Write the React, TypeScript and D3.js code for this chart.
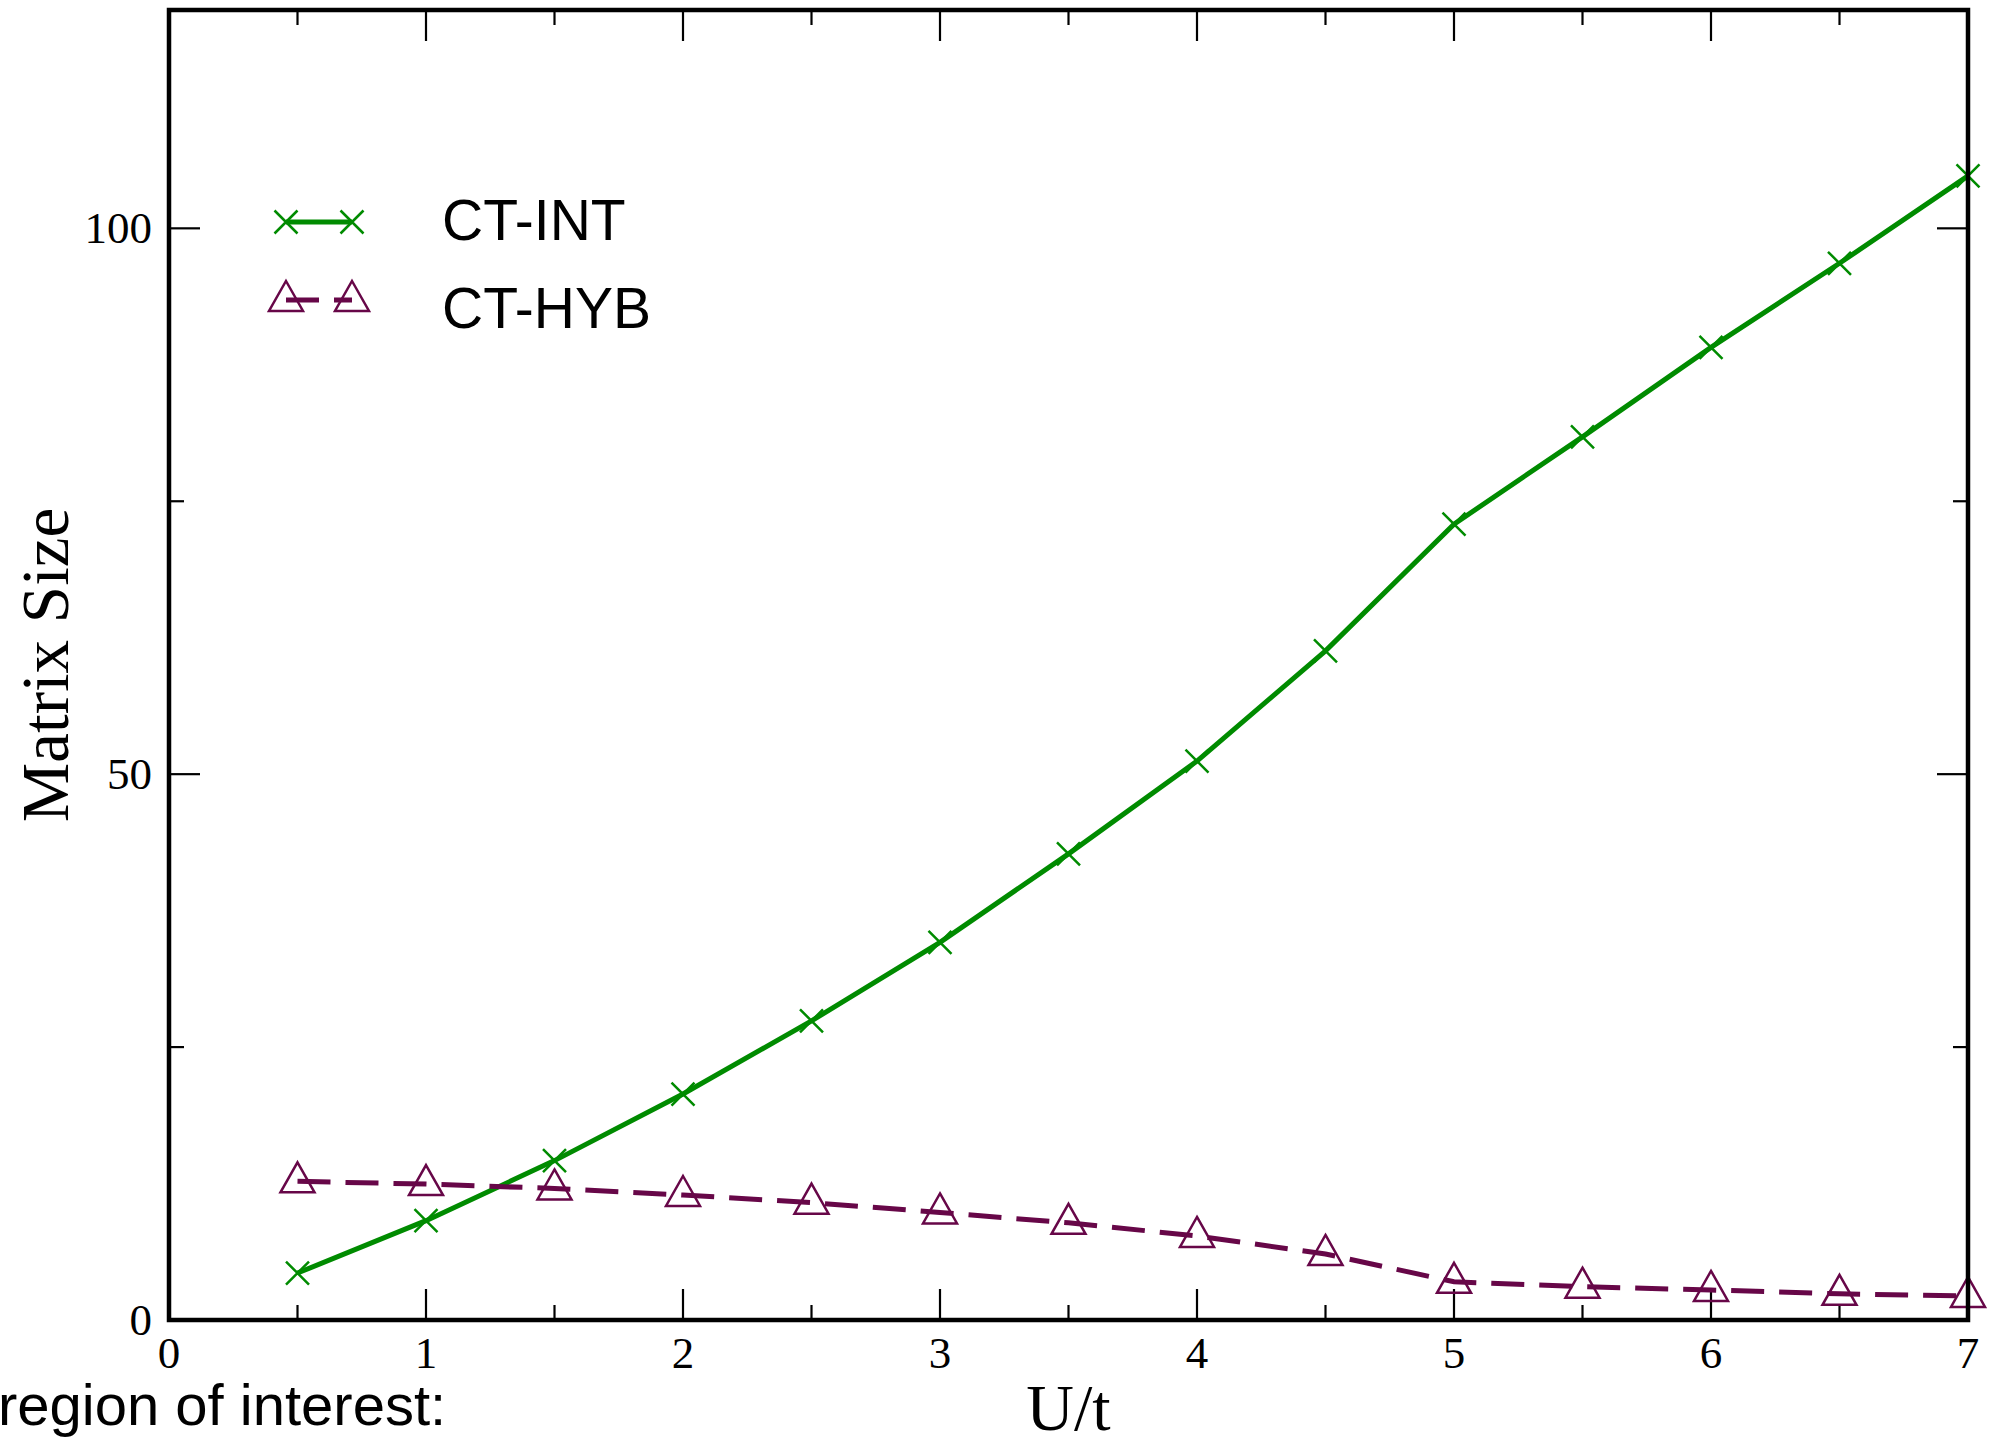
import React from "react";
import * as d3 from "d3";

const U = [0.5, 1, 1.5, 2, 2.5, 3, 3.5, 4, 4.5, 5, 5.5, 6, 6.5, 7];
const ctInt = [4.3, 9.1, 14.6, 20.7, 27.4, 34.6, 42.7, 51.2, 61.3, 72.9, 80.9, 89.1, 96.8, 104.8];
const ctHyb = [12.7, 12.45, 12.05, 11.45, 10.75, 9.85, 8.9, 7.7, 6.05, 3.5, 3.05, 2.75, 2.4, 2.2];

const xMajorTicks = [0, 1, 2, 3, 4, 5, 6, 7];
const xMinorTicks = [0.5, 1.5, 2.5, 3.5, 4.5, 5.5, 6.5];
const yMajorTicks = [0, 50, 100];
const yMinorTicks = [25, 75];

const seriesNames = ["CT-INT", "CT-HYB"];
const xLabel = "U/t";
const yLabel = "Matrix Size";
const footnote = "region of interest:";

const W = 1990;
const H = 1440;
const L = 169, R = 1968, T = 10, B = 1320;
const GREEN = "rgb(0,139,0)";
const MAROON = "rgb(103,7,72)";

const Cross = ({ x, y }: { x: number; y: number }) => {
  const s = 11.5;
  return (
    <path
      d={`M${x - s},${y - s}L${x + s},${y + s}M${x - s},${y + s}L${x + s},${y - s}`}
      stroke={GREEN}
      strokeWidth={2.5}
      fill="none"
    />
  );
};

const Tri = ({ x, y }: { x: number; y: number }) => (
  <path
    d={`M${x},${y - 19}L${x + 17},${y + 11}L${x - 17},${y + 11}Z`}
    stroke={MAROON}
    strokeWidth={2.5}
    fill="none"
  />
);

export default function App() {
  const xs = d3.scaleLinear().domain([0, 7]).range([L, R]);
  const ys = d3.scaleLinear().domain([0, 120]).range([B, T]);
  const line = d3
    .line<[number, number]>()
    .x((d) => xs(d[0]))
    .y((d) => ys(d[1]));
  const intPts: [number, number][] = U.map((u, i) => [u, ctInt[i]]);
  const hybPts: [number, number][] = U.map((u, i) => [u, ctHyb[i]]);

  const majLen = 31;
  const minLen = 15;
  const serif = "'Liberation Serif', 'Times New Roman', serif";
  const sans = "'Liberation Sans', Arial, sans-serif";

  return (
    <svg
      width={W}
      height={H}
      style={{ position: "absolute", left: 0, top: 0, background: "#fff" }}
      xmlns="http://www.w3.org/2000/svg"
    >
      <rect x={0} y={0} width={W} height={H} fill="#fff" />
      {/* ticks */}
      <g stroke="#000" strokeWidth={2.2}>
        {xMajorTicks.map((t) => (
          <g key={"xm" + t}>
            <line x1={xs(t)} x2={xs(t)} y1={B} y2={B - majLen} />
            <line x1={xs(t)} x2={xs(t)} y1={T} y2={T + majLen} />
          </g>
        ))}
        {xMinorTicks.map((t) => (
          <g key={"xn" + t}>
            <line x1={xs(t)} x2={xs(t)} y1={B} y2={B - minLen} />
            <line x1={xs(t)} x2={xs(t)} y1={T} y2={T + minLen} />
          </g>
        ))}
        {yMajorTicks.map((t) => (
          <g key={"ym" + t}>
            <line x1={L} x2={L + majLen} y1={ys(t)} y2={ys(t)} />
            <line x1={R} x2={R - majLen} y1={ys(t)} y2={ys(t)} />
          </g>
        ))}
        {yMinorTicks.map((t) => (
          <g key={"yn" + t}>
            <line x1={L} x2={L + minLen} y1={ys(t)} y2={ys(t)} />
            <line x1={R} x2={R - minLen} y1={ys(t)} y2={ys(t)} />
          </g>
        ))}
      </g>
      {/* tick labels */}
      <g fontFamily={serif} fontSize={45} fill="#000">
        {xMajorTicks.map((t) => (
          <text key={"xl" + t} x={xs(t)} y={1368} textAnchor="middle">
            {t}
          </text>
        ))}
        {yMajorTicks.map((t) => (
          <text key={"yl" + t} x={152} y={ys(t) + 15} textAnchor="end">
            {t}
          </text>
        ))}
      </g>
      {/* axis labels */}
      <text
        x={(L + R) / 2}
        y={1430}
        textAnchor="middle"
        fontFamily={serif}
        fontSize={66}
      >
        {xLabel}
      </text>
      <text
        transform={`translate(68,${(T + B) / 2}) rotate(-90)`}
        textAnchor="middle"
        fontFamily={serif}
        fontSize={67}
      >
        {yLabel}
      </text>
      <text x={-2} y={1425} fontFamily={sans} fontSize={58}>
        {footnote}
      </text>

      {/* data */}
      <path d={line(intPts) || ""} stroke={GREEN} strokeWidth={5} fill="none" />
      <path
        d={line(hybPts) || ""}
        stroke={MAROON}
        strokeWidth={5}
        strokeDasharray="33,15"
        fill="none"
      />
      {intPts.map((p, i) => (
        <Cross key={"c" + i} x={xs(p[0])} y={ys(p[1])} />
      ))}
      {hybPts.map((p, i) => (
        <Tri key={"t" + i} x={xs(p[0])} y={ys(p[1])} />
      ))}

      {/* frame */}
      <rect x={L} y={T} width={R - L} height={B - T} fill="none" stroke="#000" strokeWidth={4.5} />

      {/* legend */}
      <g>
        <line x1={286} x2={352} y1={222} y2={222} stroke={GREEN} strokeWidth={5} />
        <Cross x={286} y={222} />
        <Cross x={352} y={222} />
        <text x={442} y={240} fontFamily={sans} fontSize={57}>
          {seriesNames[0]}
        </text>
        <line
          x1={286}
          x2={352}
          y1={300}
          y2={300}
          stroke={MAROON}
          strokeWidth={5}
          strokeDasharray="33,15"
        />
        <Tri x={286} y={300} />
        <Tri x={352} y={300} />
        <text x={442} y={328} fontFamily={sans} fontSize={57}>
          {seriesNames[1]}
        </text>
      </g>
    </svg>
  );
}
